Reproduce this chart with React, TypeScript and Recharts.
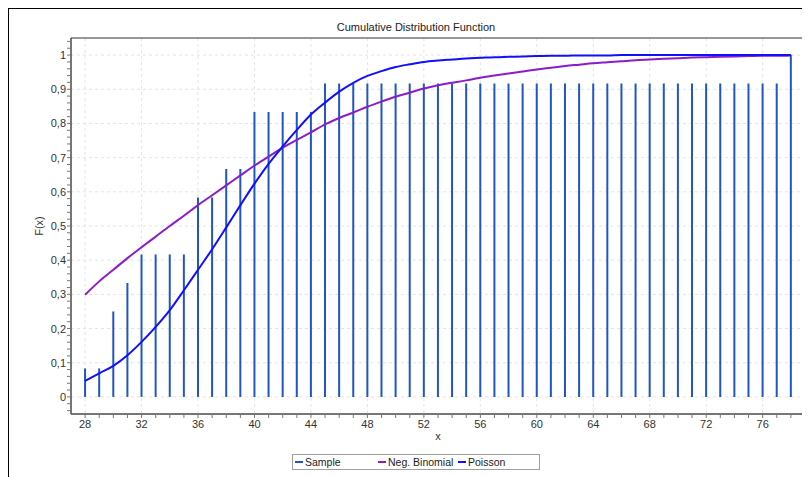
import React from 'react';
import {
  ComposedChart,
  Bar,
  Line,
  XAxis,
  YAxis,
  CartesianGrid,
  ReferenceArea,
} from 'recharts';

const xValues = [
  28, 29, 30, 31, 32, 33, 34, 35, 36, 37, 38, 39, 40, 41, 42, 43, 44, 45, 46, 47,
  48, 49, 50, 51, 52, 53, 54, 55, 56, 57, 58, 59, 60, 61, 62, 63, 64, 65, 66, 67,
  68, 69, 70, 71, 72, 73, 74, 75, 76, 77, 78,
];

const sampleCdf = [
  0.0833, 0.0833, 0.25, 0.3333, 0.4167, 0.4167, 0.4167, 0.4167, 0.5833, 0.5833,
  0.6667, 0.6667, 0.8333, 0.8333, 0.8333, 0.8333, 0.8333, 0.9167, 0.9167, 0.9167,
  0.9167, 0.9167, 0.9167, 0.9167, 0.9167, 0.9167, 0.9167, 0.9167, 0.9167, 0.9167,
  0.9167, 0.9167, 0.9167, 0.9167, 0.9167, 0.9167, 0.9167, 0.9167, 0.9167, 0.9167,
  0.9167, 0.9167, 0.9167, 0.9167, 0.9167, 0.9167, 0.9167, 0.9167, 0.9167, 0.9167,
  1.0,
];

const negBinomialCdf = [
  0.299, 0.338, 0.372, 0.406, 0.438, 0.469, 0.5, 0.53, 0.561, 0.59, 0.619, 0.648,
  0.677, 0.703, 0.729, 0.752, 0.774, 0.797, 0.816, 0.832, 0.849, 0.864, 0.878,
  0.89, 0.902, 0.912, 0.919, 0.926, 0.934, 0.94, 0.946, 0.952, 0.958, 0.963,
  0.968, 0.972, 0.976, 0.979, 0.982, 0.985, 0.987, 0.989, 0.991, 0.993, 0.994,
  0.995, 0.996, 0.997, 0.998, 0.998, 0.999,
];

const poissonCdf = [
  0.047, 0.069, 0.091, 0.122, 0.161, 0.205, 0.254, 0.312, 0.372, 0.432, 0.496,
  0.561, 0.624, 0.682, 0.733, 0.781, 0.826, 0.861, 0.893, 0.919, 0.939, 0.953,
  0.965, 0.973, 0.98, 0.984, 0.987, 0.99, 0.992, 0.994, 0.995, 0.996, 0.997,
  0.998, 0.998, 0.999, 0.999, 0.999, 1, 1, 1, 1, 1, 1, 1, 1, 1, 1, 1, 1, 1,
];

const xMajorTicks = [28, 32, 36, 40, 44, 48, 52, 56, 60, 64, 68, 72, 76];
const yMajorTicks = [0, 0.1, 0.2, 0.3, 0.4, 0.5, 0.6, 0.7, 0.8, 0.9, 1];
const yMinorTicks = [
  -0.04, -0.02, 0, 0.02, 0.04, 0.06, 0.08, 0.1, 0.12, 0.14, 0.16, 0.18, 0.2, 0.22,
  0.24, 0.26, 0.28, 0.3, 0.32, 0.34, 0.36, 0.38, 0.4, 0.42, 0.44, 0.46, 0.48, 0.5,
  0.52, 0.54, 0.56, 0.58, 0.6, 0.62, 0.64, 0.66, 0.68, 0.7, 0.72, 0.74, 0.76, 0.78,
  0.8, 0.82, 0.84, 0.86, 0.88, 0.9, 0.92, 0.94, 0.96, 0.98, 1, 1.02, 1.04,
];

const data = xValues.map((x, i) => ({
  x,
  sample: sampleCdf[i],
  negBinomial: negBinomialCdf[i],
  poisson: poissonCdf[i],
}));

const FONT = '"Liberation Sans", Arial, sans-serif';
const SAMPLE_COLOR = '#2156c2';
const NEGBIN_COLOR = '#8b1cc9';
const POISSON_COLOR = '#1010ff';

const XTick = (props: any) => {
  const { x, y, payload } = props;
  const v = payload.value;
  if (!xMajorTicks.includes(v)) return null;
  return (
    <text x={x} y={y} dy={8} textAnchor="middle" fontSize={11} fill="#333" fontFamily={FONT}>
      {String(v)}
    </text>
  );
};

const YTick = (props: any) => {
  const { x, y, payload } = props;
  const v = payload.value;
  const major = yMajorTicks.find((m) => Math.abs(m - v) < 1e-6);
  if (major === undefined) return null;
  const label = String(Math.round(major * 10) / 10).replace('.', ',');
  return (
    <text x={x} y={y} dy={4} textAnchor="end" fontSize={11} fill="#333" fontFamily={FONT}>
      {label}
    </text>
  );
};

const legendItems = [
  { name: 'Sample', color: SAMPLE_COLOR, width: 83 },
  { name: 'Neg. Binomial', color: NEGBIN_COLOR, width: 80 },
  { name: 'Poisson', color: POISSON_COLOR, width: 60 },
];

export default function App() {
  return (
    <div style={{ position: 'relative', width: 802, height: 469, fontFamily: FONT }}>
      <div
        style={{
          position: 'absolute',
          left: -1,
          top: -1,
          width: 803,
          height: 470,
          borderLeft: '2px solid #000',
          borderTop: '2px solid #000',
          boxSizing: 'border-box',
        }}
      />
      <div
        style={{
          position: 'absolute',
          left: 0,
          top: 12,
          width: 816,
          textAlign: 'center',
          fontSize: 11,
          lineHeight: '14px',
          color: '#222',
        }}
      >
        Cumulative Distribution Function
      </div>
      <div style={{ position: 'absolute', left: 0, top: 0 }}>
        <ComposedChart
          width={802}
          height={469}
          data={data}
          margin={{ top: 30, right: 5, left: 0, bottom: 33 }}
        >
          <CartesianGrid
            horizontalValues={yMajorTicks}
            verticalValues={xMajorTicks}
            stroke="#e4e4e4"
            strokeDasharray="3 3"
          />
          <XAxis
            dataKey="x"
            type="number"
            domain={[27, 79]}
            ticks={xValues}
            interval={0}
            tick={<XTick />}
            tickSize={4}
            tickMargin={2}
            height={30}
            stroke="#555"
            tickLine={{ stroke: '#777' }}
            allowDataOverflow
            label={{ value: 'x', position: 'insideBottom', offset: 4, fontSize: 11, fill: '#333' }}
          />
          <YAxis
            type="number"
            domain={[-0.05, 1.05]}
            ticks={yMinorTicks}
            interval={0}
            tick={<YTick />}
            tickSize={4}
            tickMargin={1}
            width={63}
            stroke="#555"
            tickLine={{ stroke: '#777' }}
            allowDataOverflow
            label={{ value: 'F(x)', angle: -90, position: 'center', fontSize: 11, fill: '#333' }}
          />
          <ReferenceArea x1={27} y1={-0.05} x2={79} y2={1.05} fill="none" stroke="#333" strokeWidth={1} fillOpacity={0} />
          <Bar dataKey="sample" barSize={2} fill={SAMPLE_COLOR} isAnimationActive={false} />
          <Line
            dataKey="negBinomial"
            type="monotone"
            stroke={NEGBIN_COLOR}
            strokeWidth={2}
            dot={false}
            activeDot={false}
            isAnimationActive={false}
          />
          <Line
            dataKey="poisson"
            type="monotone"
            stroke={POISSON_COLOR}
            strokeWidth={2}
            dot={false}
            activeDot={false}
            isAnimationActive={false}
          />
        </ComposedChart>
      </div>
      <div
        style={{
          position: 'absolute',
          left: 284,
          top: 446,
          width: 248,
          height: 16,
          border: '1px solid #a0a0a0',
          boxSizing: 'border-box',
          display: 'flex',
          alignItems: 'center',
          paddingLeft: 2,
          fontSize: 10.5,
          color: '#222',
          whiteSpace: 'nowrap',
          overflow: 'hidden',
        }}
      >
        {legendItems.map((it) => (
          <div
            key={it.name}
            style={{ display: 'flex', alignItems: 'center', width: it.width, flexShrink: 0, whiteSpace: 'nowrap' }}
          >
            <span style={{ display: 'inline-block', width: 8, height: 2, background: it.color, marginRight: 2, flexShrink: 0 }} />
            <span>{it.name}</span>
          </div>
        ))}
      </div>
    </div>
  );
}
